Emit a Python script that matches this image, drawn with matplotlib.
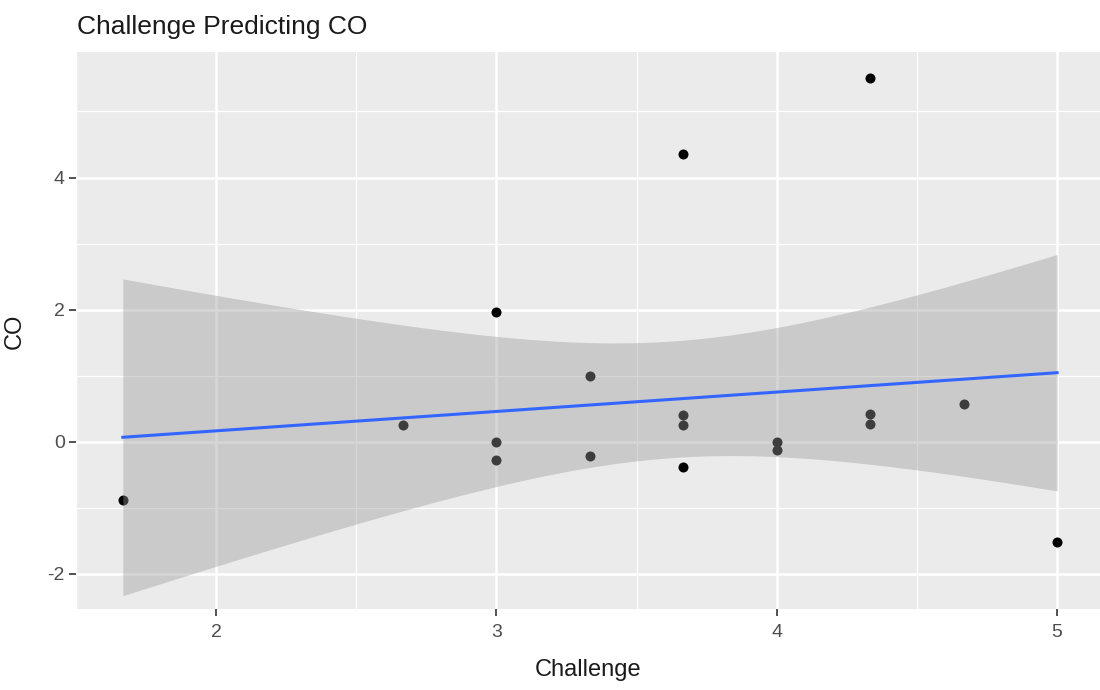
import numpy as np
import matplotlib
matplotlib.use("Agg")
import matplotlib.pyplot as plt

plt.rcParams['font.family'] = ['Liberation Sans', 'DejaVu Sans']
plt.rcParams['axes.unicode_minus'] = False

challenge = [1.667, 2.667, 3.0, 3.0, 3.0, 3.333, 3.333, 3.667, 3.667, 3.667, 3.667,
             4.0, 4.0, 4.333, 4.333, 4.333, 4.667, 5.0]
co = [-0.88, 0.25, 1.97, 0.0, -0.27, 1.0, -0.22, 4.35, 0.40, 0.25, -0.38,
      0.0, -0.12, 5.50, 0.42, 0.27, 0.58, -1.52]
x_ticks = [2, 3, 4, 5]
y_ticks = [-2, 0, 2, 4]
title = "Challenge Predicting CO"
xlabel = "Challenge"
ylabel = "CO"

x = np.array(challenge)
y = np.array(co)
n = len(x)
slope, intercept = np.polyfit(x, y, 1)
resid = y - (intercept + slope * x)
s = np.sqrt(np.sum(resid ** 2) / (n - 2))
sxx = np.sum((x - x.mean()) ** 2)
xs = np.linspace(x.min(), x.max(), 80)
fit = intercept + slope * xs
se = s * np.sqrt(1.0 / n + (xs - x.mean()) ** 2 / sxx)
tval = 2.119905  # t(0.975, df=16)

W, H = 1100, 690
fig = plt.figure(figsize=(11, 6.9), dpi=100)
ax = fig.add_axes([76 / W, (H - 609) / H, (W - 76) / W, (609 - 52) / H])
ax.set_facecolor('#EBEBEB')
for sp in ax.spines.values():
    sp.set_visible(False)

ax.set_xlim(1.505, 5.153)
ax.set_ylim(-2.53, 5.9)
ax.set_xticks(x_ticks)
ax.set_yticks(y_ticks)
ax.set_xticks([1.5, 2.5, 3.5, 4.5], minor=True)
ax.set_yticks([-1, 1, 3, 5], minor=True)
ax.grid(which='major', color='white', linewidth=1.8)
ax.grid(which='minor', color='white', linewidth=0.9)
ax.set_axisbelow(True)
ax.tick_params(which='major', length=5, width=1.2, color='#333333', labelsize=14,
               labelcolor='#4D4D4D')
ax.tick_params(axis='x', pad=6)
ax.tick_params(axis='y', pad=3)
ax.tick_params(which='minor', length=0)

ax.scatter(x, y, s=52, color='black', zorder=2, linewidths=0)
ax.fill_between(xs, fit - tval * se, fit + tval * se, color='#999999', alpha=0.4,
                linewidth=0, zorder=3)
ax.plot(xs, fit, color='#3366FF', linewidth=2.2, zorder=4)

fig.text(588 / W, 1 - 676 / H, xlabel, fontsize=17, color='#1A1A1A',
         ha='center', va='baseline')
fig.text(26 / W, 1 - 331 / H, ylabel, fontsize=17, color='#1A1A1A',
         ha='right', va='center', rotation=90)
fig.text(77 / W, 1 - 34 / H, title, fontsize=19, color='#1A1A1A',
         ha='left', va='baseline')

fig.savefig('out.png', dpi=100)
